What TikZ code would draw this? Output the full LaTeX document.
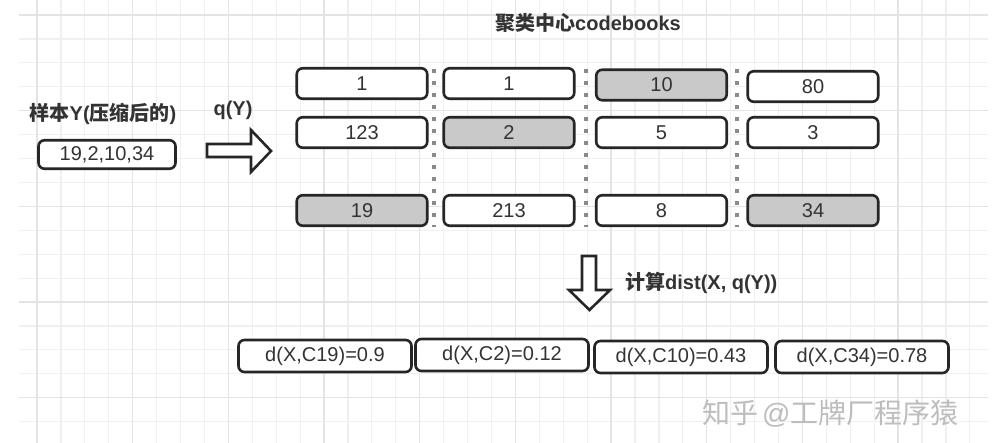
\documentclass[tikz,border=0pt]{standalone}
\usepackage{fontspec}
\setmainfont{Liberation Sans}
\newfontfamily\cjk{Noto Sans CJK SC}
\definecolor{boxline}{HTML}{262626}
\definecolor{hl}{HTML}{C9C9C9}
\definecolor{txt}{HTML}{333333}
\definecolor{dotc}{HTML}{8A8A8A}
\definecolor{gridminor}{HTML}{F0F0F0}
\definecolor{gridmajor}{HTML}{E4E4E4}
\definecolor{wm}{HTML}{BDBDBD}
\begin{document}
\begin{tikzpicture}[x=1pt,y=-1pt,
  cell/.style={draw=boxline, line width=2.6pt, rounded corners=6pt, fill=white,
    minimum width=130.5pt, minimum height=30.5pt, inner sep=0pt,
    font=\fontsize{20}{24}\selectfont, text=txt},
  hot/.style={fill=hl},
  dbox/.style={cell, minimum width=173pt, minimum height=32pt},
  lbl/.style={font=\fontsize{20}{24}\selectfont\bfseries, text=txt, inner sep=0pt},
  sep/.style={draw=dotc, line width=4pt, dash pattern=on 4pt off 8pt},
  blockarrow/.style={draw=boxline, line width=2.6pt, fill=white, line join=miter}
]
% canvas
\useasboundingbox (0,0) rectangle (999,443);
\fill[white] (0,0) rectangle (999,443);
% grid
\begin{scope}
\clip (19,0) rectangle (988,443);
\foreach \k in {0,...,39} {
  \draw[gridminor, line width=1.2pt] ({37+23.92*\k},0) -- ({37+23.92*\k},443);
}
\foreach \k in {0,...,17} {
  \draw[gridminor, line width=1.2pt] (19,{15+23.92*\k}) -- (988,{15+23.92*\k});
}
\foreach \k in {0,4,...,36} {
  \draw[gridmajor, line width=1.4pt] ({37+23.92*\k},0) -- ({37+23.92*\k},443);
}
\foreach \k in {0,4,...,16} {
  \draw[gridmajor, line width=1.4pt] (19,{15+23.92*\k}) -- (988,{15+23.92*\k});
}
\end{scope}

% title
\node[lbl] (title) at (588,23) {{\cjk 聚类中心}codebooks};

% sample
\node[lbl] (slabel) at (103,114) {{\cjk 样本}Y({\cjk 压缩后的})};
\node[cell, minimum width=137pt, minimum height=28.5pt] (sample) at (107,154.5) {19,2,10,34};
\node[lbl] (qy) at (233,110) {q(Y)};

% right block arrow
\draw[blockarrow] (207,144) -- (251,144) -- (251,130) -- (271,151) -- (251,172)
  -- (251,157) -- (207,157) -- cycle;

% separators
\draw[sep] (434,69) -- (434,227);
\draw[sep] (586,69) -- (586,227);
\draw[sep] (737,69) -- (737,227);

% codebook cells
\node[cell] (a1) at (362,83.5) {1};
\node[cell] (b1) at (509,83.5) {1};
\node[cell, hot] (c1) at (661.5,85) {10};
\node[cell] (d1) at (813,86.5) {80};
\node[cell] (a2) at (362,132.5) {123};
\node[cell, hot] (b2) at (509,132.5) {2};
\node[cell] (c2) at (661.5,132.5) {5};
\node[cell] (d2) at (813,132.5) {3};
\node[cell, hot] (a3) at (362,210.5) {19};
\node[cell] (b3) at (509,210.5) {213};
\node[cell] (c3) at (661.5,210.5) {8};
\node[cell, hot] (d3) at (813,210.5) {34};

% down block arrow
\draw[blockarrow] (582,256) -- (596,256) -- (596,290) -- (610,290) -- (589.5,310)
  -- (569,290) -- (582,290) -- cycle;
\node[lbl, anchor=west] (calc) at (625,283) {{\cjk 计算}dist(X, q(Y))};

% distances
\node[dbox] (e1) at (325,356) {d(X,C19)=0.9};
\node[dbox] (e2) at (502,355) {d(X,C2)=0.12};
\node[dbox] (e3) at (681,357) {d(X,C10)=0.43};
\node[dbox] (e4) at (862,357) {d(X,C34)=0.78};

% watermark
\node[anchor=west, inner sep=0pt, text=wm, font=\fontsize{28}{32}\selectfont] (wmark) at (702,414) {{\cjk 知乎}\hspace{4pt}@{\cjk 工牌厂程序猿}};
\end{tikzpicture}
\end{document}
